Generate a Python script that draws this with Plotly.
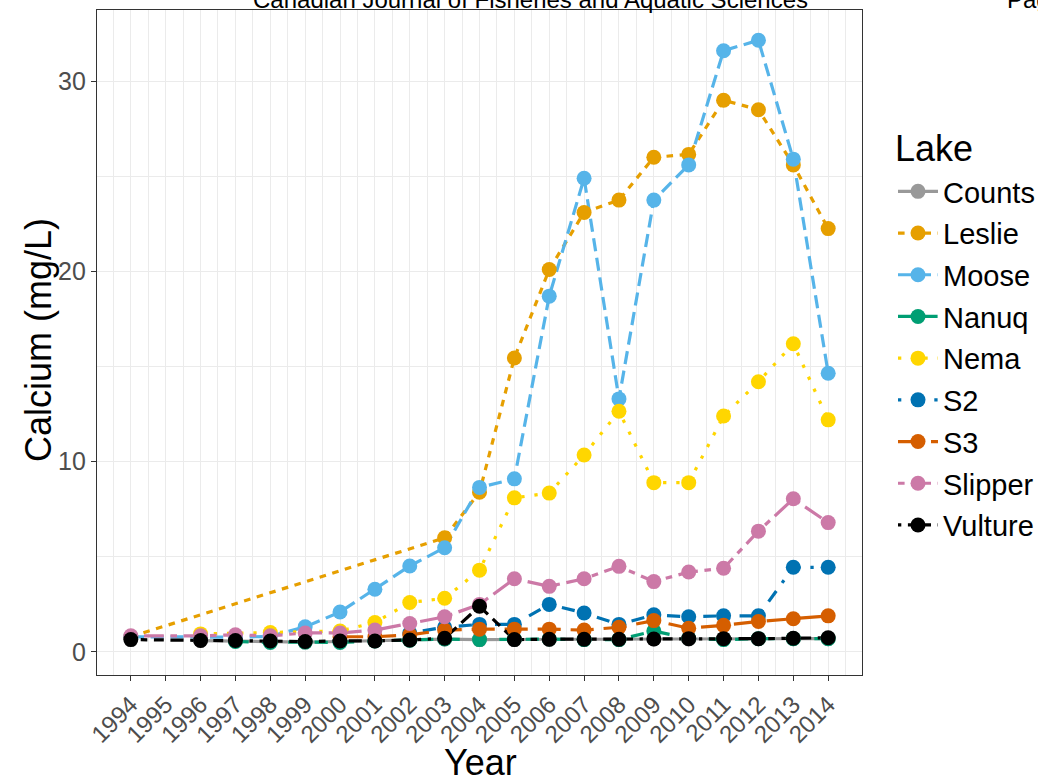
import plotly.graph_objects as go

# Sampling years (no lake was sampled in 1995)
years = list(range(1994, 2015))

# Calcium concentrations (mg/L) per lake, aligned with `years`
counts = [None, None, 0.60, 0.58, 0.55, 0.52, 0.55, 0.58, 0.62, 0.68, 0.65,
          0.66, 0.66, 0.65, 0.65, 0.68, 0.68, 0.68, 0.70, 0.70, 0.70]
leslie = [0.80, None, None, None, None, None, None, None, None, 6.00, 8.40,
          15.45, 20.10, 23.10, 23.75, 26.00, 26.15, 29.00, 28.50, 25.60, 22.25]
moose = [0.80, None, 0.78, 0.78, 0.82, 1.32, 2.10, 3.30, 4.52, 5.48, 8.65,
         9.10, 18.70, 24.90, 13.30, 23.75, 25.60, 31.60, 32.15, 25.90, 14.65]
nanuq = [None, None, None, 0.55, 0.50, 0.52, 0.50, 0.58, 0.62, 0.68, 0.65,
         0.68, 0.68, 0.65, 0.65, 1.10, 0.72, 0.65, 0.70, 0.70, 0.70]
nema = [None, None, 0.95, None, 1.02, None, 1.10, 1.55, 2.60, 2.82, 4.30,
        8.10, 8.35, 10.35, 12.65, 8.90, 8.90, 12.40, 14.20, 16.20, 12.20]
s2 = [None, None, None, None, None, None, None, None, 1.00, 1.30, 1.45,
      1.45, 2.50, 2.05, 1.45, 1.95, 1.85, 1.90, 1.90, 4.45, 4.45]
s3 = [None, None, None, None, None, None, 0.80, 0.80, 0.90, 1.15, 1.20,
      1.20, 1.20, 1.15, 1.30, 1.65, 1.25, 1.40, 1.60, 1.75, 1.90]
slipper = [0.85, None, 0.85, 0.90, 0.85, 1.00, 1.00, 1.15, 1.50, 1.85, 2.50,
           3.85, 3.45, 3.85, 4.50, 3.70, 4.20, 4.40, 6.35, 8.05, 6.80]
vulture = [0.65, None, 0.60, 0.60, 0.58, 0.55, 0.58, 0.58, 0.63, 0.72, 2.40,
           0.65, 0.67, 0.67, 0.67, 0.68, 0.70, 0.70, 0.70, 0.72, 0.75]

lakes = ["Counts", "Leslie", "Moose", "Nanuq", "Nema", "S2", "S3", "Slipper", "Vulture"]
values = [counts, leslie, moose, nanuq, nema, s2, s3, slipper, vulture]

colors = ["#999999", "#E69F00", "#56B4E9", "#009E73", "#FFD600",
          "#0072B2", "#D55E00", "#CC79A7", "#000000"]
# ggplot-style hex linetype codes (on/off lengths in units of line width)
linetypes = [None, "22", "42", "44", "13", "1343", "73", "2262", "12223242"]

LINE_W = 3.2
UNIT = 3.3
MARKER = 15


def dash_for(code):
    if code is None:
        return "solid"
    return ",".join(f"{int(c, 16) * UNIT:.1f}px" for c in code)


# Plot-area geometry in pixels
W, H = 1038, 782
X0, X1, Y0, Y1 = 97, 862, 10, 675


def px_x(p):
    return (p - X0) / (X1 - X0)


def px_y(p):
    return (Y1 - p) / (Y1 - Y0)


fig = go.Figure()

# lines first, then points on top of every line
for name, vals, col, lt in zip(lakes, values, colors, linetypes):
    fig.add_trace(go.Scatter(
        x=years, y=vals, mode="lines", connectgaps=True,
        line=dict(color=col, width=LINE_W, dash=dash_for(lt)),
        showlegend=False, legendgroup=name, hoverinfo="skip"))
for name, vals, col, lt in zip(lakes, values, colors, linetypes):
    fig.add_trace(go.Scatter(
        x=years, y=vals, mode="markers",
        marker=dict(color=col, size=MARKER, line=dict(width=0)),
        showlegend=False, legendgroup=name, name=name))
# legend keys
for name, col, lt in zip(lakes, colors, linetypes):
    fig.add_trace(go.Scatter(
        x=[None], y=[None], mode="lines+markers", name=name, legendgroup=name,
        line=dict(color=col, width=LINE_W, dash=dash_for(lt)),
        marker=dict(color=col, size=MARKER, line=dict(width=0))))

FONT = "Liberation Sans, Arial, Helvetica, sans-serif"
GRID = "#EBEBEB"

fig.update_layout(
    width=W, height=H,
    margin=dict(l=X0, r=W - X1, t=Y0, b=H - Y1, pad=0, autoexpand=False),
    paper_bgcolor="white", plot_bgcolor="white",
    font=dict(family=FONT, color="black"),
    showlegend=True,
    legend=dict(
        x=px_x(893), y=px_y(166), xanchor="left", yanchor="top",
        font=dict(size=29, color="black"),
        traceorder="grouped", tracegroupgap=1,
        bgcolor="rgba(0,0,0,0)", itemwidth=40),
    xaxis=dict(
        range=[1993.03, 2014.97],
        tickmode="array", tickvals=years, ticktext=[str(y) for y in years],
        tickangle=-45, tickfont=dict(size=24, color="#4D4D4D"),
        ticks="outside", ticklen=5, tickwidth=1.2, tickcolor="#333333",
        showgrid=True, gridcolor=GRID, gridwidth=1.2,
        minor=dict(tickmode="linear", tick0=1993.5, dtick=1, showgrid=True,
                   gridcolor=GRID, gridwidth=0.8, ticks=""),
        showline=True, linecolor="#333333", linewidth=1.3, mirror=True,
        zeroline=False, automargin=False),
    yaxis=dict(
        range=[-1.21, 33.74],
        tickmode="array", tickvals=[0, 10, 20, 30],
        tickfont=dict(size=25, color="#4D4D4D"),
        ticks="outside", ticklen=5, tickwidth=1.2, tickcolor="#333333",
        showgrid=True, gridcolor=GRID, gridwidth=1.2,
        minor=dict(tickmode="array", tickvals=[5, 15, 25], showgrid=True,
                   gridcolor=GRID, gridwidth=0.8, ticks=""),
        showline=True, linecolor="#333333", linewidth=1.3, mirror=True,
        zeroline=False, automargin=False),
)

# axis titles
fig.add_annotation(text="Year", xref="paper", yref="paper",
                   x=px_x(480), y=px_y(762), xanchor="center", yanchor="middle",
                   showarrow=False, font=dict(size=36, family=FONT, color="black"))
fig.add_annotation(text="Calcium (mg/L)", xref="paper", yref="paper",
                   x=px_x(38), y=px_y(340), xanchor="center", yanchor="middle",
                   textangle=-90, showarrow=False,
                   font=dict(size=36, family=FONT, color="black"))

# legend heading
fig.add_annotation(text="Lake", xref="paper", yref="paper",
                   x=px_x(893), y=px_y(148), xanchor="left", yanchor="middle",
                   showarrow=False, font=dict(size=36, family=FONT, color="black"))

# running page header of the journal manuscript
fig.add_annotation(text="Canadian Journal of Fisheries and Aquatic Sciences",
                   xref="paper", yref="paper", x=px_x(530), y=px_y(0),
                   xanchor="center", yanchor="middle", showarrow=False,
                   font=dict(size=24, family=FONT, color="black"))
fig.add_annotation(text="Page", xref="paper", yref="paper",
                   x=px_x(1005), y=px_y(0), xanchor="left", yanchor="middle",
                   showarrow=False, font=dict(size=24, family=FONT, color="black"))

fig.write_html("out.html")
